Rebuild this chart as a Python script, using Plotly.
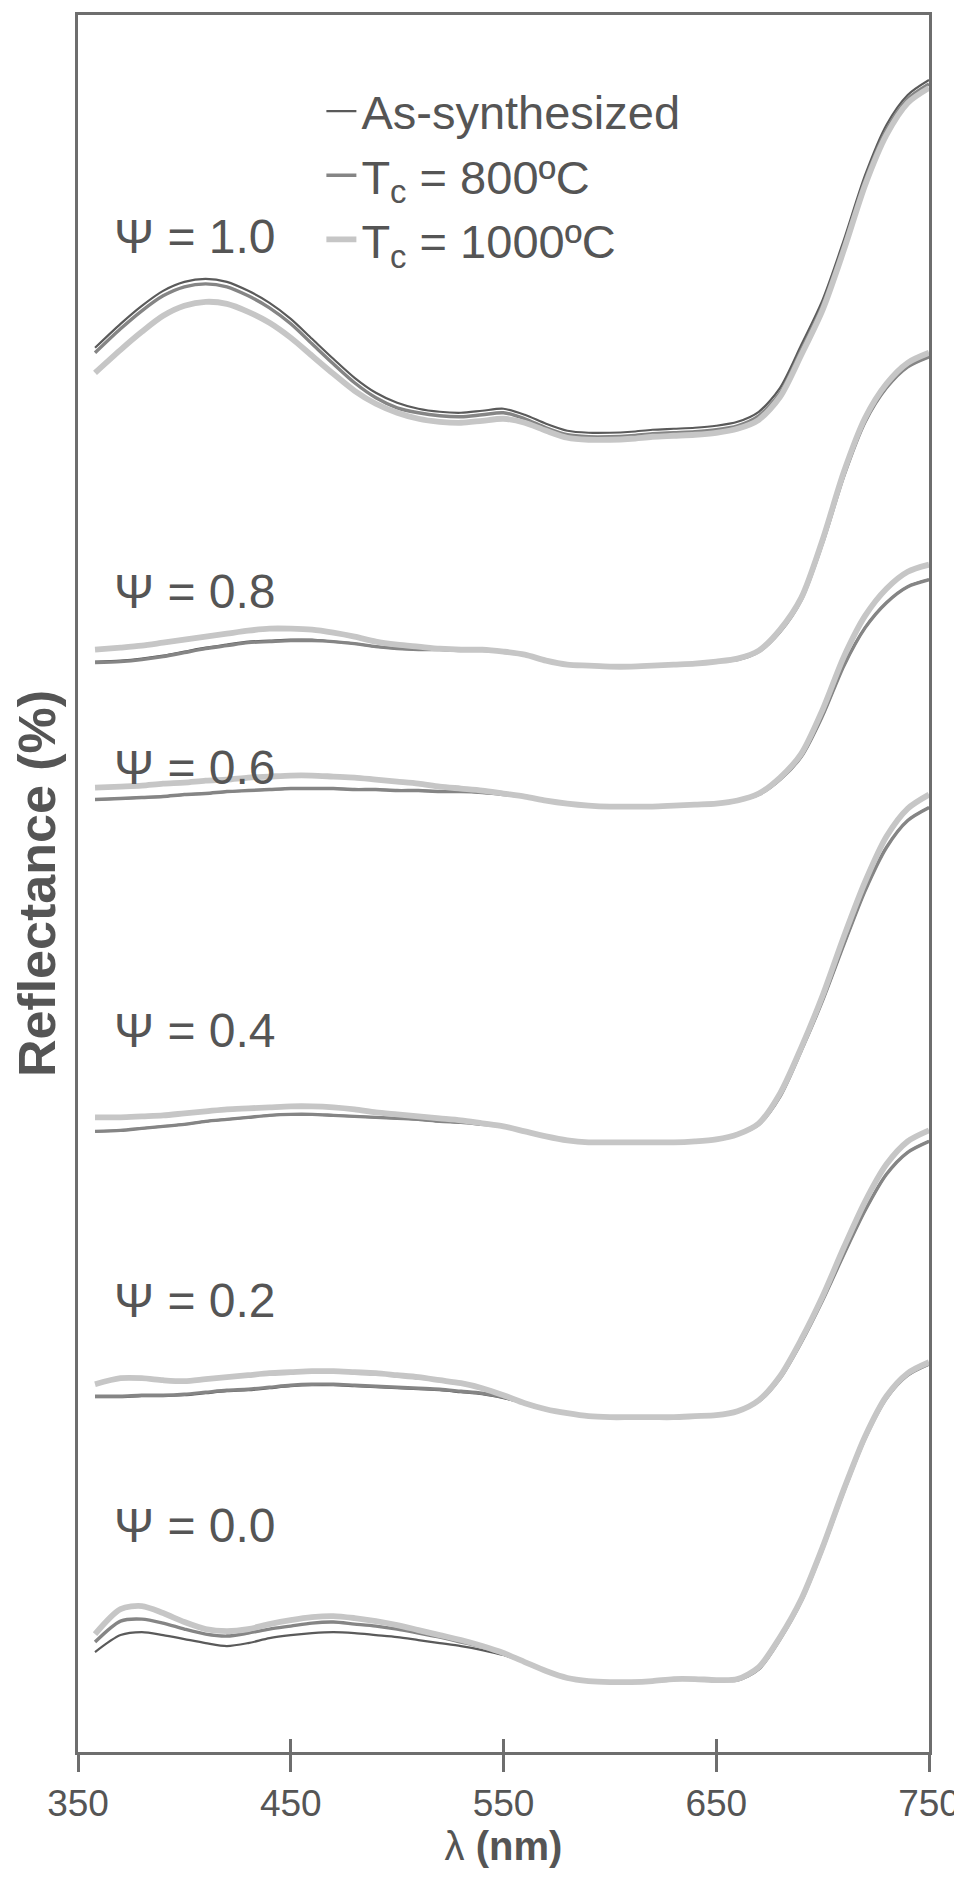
import plotly.graph_objects as go

# Wavelength grid (nm)
wavelength = [358, 370, 380, 390, 400, 410, 420, 430, 440, 450,
              460, 470, 480, 490, 500, 510, 520, 530, 540, 550,
              560, 570, 580, 590, 600, 610, 620, 630, 640, 650,
              660, 670, 680, 690, 700, 710, 720, 730, 740, 750]

# Stacked (offset) reflectance curves
psi10_as = [145.2, 147.6, 149.4, 150.9, 151.8, 152.1, 151.8, 150.9, 149.7, 148.1,
            146.1, 144.1, 142.2, 140.7, 139.7, 139.1, 138.8, 138.7, 138.9, 139.1,
            138.5, 137.6, 136.9, 136.7, 136.7, 136.8, 137.0, 137.1, 137.2, 137.4,
            137.8, 138.8, 141.2, 145.5, 150.0, 156.0, 162.5, 167.5, 170.5, 172.0]
psi10_800 = [144.7, 147.1, 148.9, 150.4, 151.3, 151.6, 151.3, 150.4, 149.2, 147.6,
             145.6, 143.6, 141.7, 140.2, 139.2, 138.7, 138.4, 138.3, 138.5, 138.7,
             138.1, 137.2, 136.5, 136.3, 136.3, 136.4, 136.6, 136.7, 136.8, 137.0,
             137.4, 138.4, 140.7, 145.0, 149.5, 155.5, 162.0, 167.0, 170.1, 171.6]
psi10_1000 = [142.7, 145.0, 146.8, 148.4, 149.4, 149.8, 149.6, 148.8, 147.7, 146.2,
              144.4, 142.6, 140.9, 139.6, 138.7, 138.1, 137.8, 137.7, 137.9, 138.1,
              137.7, 136.9, 136.2, 136.0, 136.0, 136.1, 136.3, 136.4, 136.5, 136.7,
              137.1, 138.0, 140.3, 144.5, 149.0, 155.0, 161.5, 166.5, 169.7, 171.2]

psi08_as = [113.8, 113.9, 114.1, 114.4, 114.8, 115.2, 115.5, 115.8, 115.9, 116.0,
            116.0, 115.8, 115.6, 115.3, 115.1, 115.0, 115.0, 114.9, 114.9, 114.8,
            114.5, 113.9, 113.5, 113.4, 113.3, 113.3, 113.4, 113.5, 113.6, 113.8,
            114.0, 114.8, 116.8, 120.0, 125.7, 132.4, 137.8, 141.2, 143.3, 144.3]
psi08_800 = [113.7, 113.8, 114.0, 114.3, 114.7, 115.1, 115.4, 115.7, 115.8, 115.9,
             115.9, 115.8, 115.6, 115.3, 115.1, 115.0, 115.0, 114.9, 114.9, 114.8,
             114.5, 113.9, 113.5, 113.4, 113.3, 113.3, 113.4, 113.5, 113.6, 113.8,
             114.0, 114.8, 116.8, 120.0, 125.7, 132.4, 137.8, 141.2, 143.3, 144.3]
psi08_1000 = [115.0, 115.2, 115.4, 115.7, 116.0, 116.3, 116.6, 116.9, 117.1, 117.1,
              117.0, 116.7, 116.3, 115.8, 115.5, 115.3, 115.1, 115.0, 115.0, 114.8,
              114.5, 113.9, 113.5, 113.4, 113.3, 113.3, 113.4, 113.5, 113.6, 113.8,
              114.1, 114.9, 117.0, 120.2, 126.0, 132.8, 138.2, 141.6, 143.7, 144.7]

psi06_as = [100.0, 100.1, 100.2, 100.3, 100.5, 100.6, 100.8, 100.9, 101.0, 101.1,
            101.1, 101.1, 101.0, 101.0, 100.9, 100.9, 100.8, 100.8, 100.7, 100.5,
            100.3, 99.9, 99.6, 99.4, 99.3, 99.3, 99.3, 99.4, 99.5, 99.6,
            99.9, 100.5, 102.0, 104.3, 108.4, 113.4, 117.2, 119.7, 121.3, 122.0]
psi06_800 = [100.0, 100.1, 100.2, 100.3, 100.5, 100.6, 100.8, 100.9, 101.0, 101.1,
             101.1, 101.1, 101.0, 101.0, 100.9, 100.9, 100.8, 100.8, 100.7, 100.5,
             100.3, 99.9, 99.6, 99.4, 99.3, 99.3, 99.3, 99.4, 99.5, 99.6,
             99.9, 100.5, 102.0, 104.3, 108.4, 113.4, 117.2, 119.7, 121.3, 122.0]
psi06_1000 = [101.2, 101.3, 101.4, 101.6, 101.7, 101.9, 102.0, 102.2, 102.3, 102.4,
              102.4, 102.3, 102.2, 102.0, 101.8, 101.6, 101.3, 101.1, 100.9, 100.6,
              100.3, 99.9, 99.6, 99.4, 99.3, 99.3, 99.3, 99.4, 99.5, 99.6,
              99.9, 100.6, 102.2, 104.6, 109.0, 114.3, 118.4, 121.1, 122.8, 123.5]

psi04_as = [66.8, 66.9, 67.1, 67.3, 67.5, 67.8, 68.0, 68.2, 68.4, 68.5,
            68.5, 68.4, 68.3, 68.2, 68.1, 68.0, 67.8, 67.7, 67.5, 67.3,
            66.8, 66.3, 65.9, 65.7, 65.7, 65.7, 65.7, 65.7, 65.8, 66.0,
            66.5, 67.5, 70.3, 74.9, 79.9, 85.5, 90.9, 95.2, 97.9, 99.2]
psi04_800 = [66.8, 66.9, 67.1, 67.3, 67.5, 67.8, 68.0, 68.2, 68.4, 68.5,
             68.5, 68.4, 68.3, 68.2, 68.1, 68.0, 67.8, 67.7, 67.5, 67.3,
             66.8, 66.3, 65.9, 65.7, 65.7, 65.7, 65.7, 65.7, 65.8, 66.0,
             66.5, 67.5, 70.3, 74.9, 79.9, 85.5, 90.9, 95.2, 97.9, 99.2]
psi04_1000 = [68.2, 68.2, 68.3, 68.4, 68.6, 68.8, 69.0, 69.1, 69.2, 69.3,
              69.3, 69.2, 69.0, 68.7, 68.5, 68.3, 68.1, 67.9, 67.6, 67.3,
              66.8, 66.3, 65.9, 65.7, 65.7, 65.7, 65.7, 65.7, 65.8, 66.0,
              66.5, 67.6, 70.6, 75.2, 80.4, 86.3, 91.8, 96.3, 99.1, 100.5]

psi02_as = [40.2, 40.2, 40.3, 40.3, 40.4, 40.6, 40.8, 40.9, 41.1, 41.3,
            41.4, 41.4, 41.3, 41.2, 41.1, 41.0, 40.9, 40.7, 40.5, 40.1,
            39.6, 39.0, 38.6, 38.3, 38.2, 38.2, 38.2, 38.2, 38.3, 38.4,
            38.8, 39.8, 42.1, 45.7, 49.9, 54.5, 58.9, 62.5, 64.7, 65.8]
psi02_800 = [40.3, 40.3, 40.4, 40.4, 40.5, 40.7, 40.9, 41.0, 41.2, 41.4,
             41.5, 41.5, 41.4, 41.3, 41.2, 41.1, 41.0, 40.8, 40.6, 40.2,
             39.6, 39.0, 38.6, 38.3, 38.2, 38.2, 38.2, 38.2, 38.3, 38.4,
             38.8, 39.8, 42.1, 45.7, 49.9, 54.5, 58.9, 62.5, 64.7, 65.8]
psi02_1000 = [41.5, 42.1, 42.1, 41.9, 41.8, 42.0, 42.2, 42.4, 42.6, 42.7,
              42.8, 42.8, 42.7, 42.6, 42.4, 42.2, 41.9, 41.6, 41.1, 40.4,
              39.6, 39.0, 38.6, 38.3, 38.2, 38.2, 38.2, 38.2, 38.3, 38.4,
              38.8, 39.9, 42.3, 46.0, 50.3, 55.2, 59.8, 63.5, 65.8, 66.9]

psi00_as = [14.7, 16.4, 16.7, 16.4, 16.0, 15.6, 15.3, 15.6, 16.1, 16.4,
            16.6, 16.7, 16.6, 16.4, 16.2, 15.9, 15.6, 15.3, 14.9, 14.4,
            13.7, 12.8, 12.1, 11.8, 11.7, 11.7, 11.8, 12.0, 12.0, 11.9,
            11.9, 13.0, 16.0, 19.8, 25.0, 30.8, 36.1, 40.1, 42.4, 43.5]
psi00_800 = [15.7, 17.8, 18.0, 17.6, 17.0, 16.5, 16.3, 16.6, 17.0, 17.3,
             17.6, 17.7, 17.5, 17.3, 17.0, 16.6, 16.2, 15.7, 15.2, 14.5,
             13.7, 12.8, 12.1, 11.8, 11.7, 11.7, 11.8, 12.0, 12.0, 11.9,
             11.9, 13.0, 16.0, 19.8, 25.0, 30.8, 36.1, 40.1, 42.4, 43.5]
psi00_1000 = [16.5, 19.0, 19.3, 18.6, 17.7, 17.0, 16.8, 17.0, 17.5, 17.9,
              18.2, 18.3, 18.1, 17.8, 17.4, 16.9, 16.4, 15.9, 15.3, 14.6,
              13.7, 12.8, 12.1, 11.8, 11.7, 11.7, 11.8, 12.0, 12.0, 11.9,
              12.0, 13.2, 16.2, 20.0, 25.2, 31.0, 36.3, 40.3, 42.6, 43.7]

psi_labels = ["Ψ = 1.0", "Ψ = 0.8", "Ψ = 0.6", "Ψ = 0.4", "Ψ = 0.2", "Ψ = 0.0"]
psi_label_y = [156.3, 120.8, 103.2, 76.9, 49.9, 27.4]

series_names = ["As-synthesized", "T<sub>c</sub> = 800ºC", "T<sub>c</sub> = 1000ºC"]
series_data = [
    [psi10_as, psi08_as, psi06_as, psi04_as, psi02_as, psi00_as],
    [psi10_800, psi08_800, psi06_800, psi04_800, psi02_800, psi00_800],
    [psi10_1000, psi08_1000, psi06_1000, psi04_1000, psi02_1000, psi00_1000],
]
series_colors = ["#5a5a5a", "#858585", "#c6c6c6"]
series_widths = [2.2, 3.4, 5.8]

x_ticks = [350, 450, 550, 650, 750]

text_color = "#555555"
axis_color = "#6e6e6e"
font_family = "Liberation Sans, Arial, sans-serif"

fig = go.Figure()
for s, (name, curves) in enumerate(zip(series_names, series_data)):
    for k, curve in enumerate(curves):
        fig.add_trace(go.Scatter(
            x=wavelength, y=curve, mode="lines",
            name=name, legendgroup=f"g{s}", showlegend=(k == 0),
            line=dict(color=series_colors[s], width=series_widths[s], shape="spline", smoothing=0.8),
            hoverinfo="skip",
        ))

# dummy trace so the inside-tick overlay axis is drawn
fig.add_trace(go.Scatter(x=[None], y=[None], xaxis="x2", showlegend=False, hoverinfo="skip"))

for lbl, ly in zip(psi_labels, psi_label_y):
    fig.add_annotation(x=366, y=ly, xref="x", yref="y", text=lbl, showarrow=False,
                       xanchor="left", yanchor="middle",
                       font=dict(family=font_family, size=48, color=text_color))

# The page body adds an 8 px margin; the figure is sized so the whole page is 962 x 1884.
fig.update_layout(
    width=954, height=1876,
    margin=dict(l=70, r=33, t=7, b=132),
    plot_bgcolor="white", paper_bgcolor="white",
    font=dict(family=font_family, color=text_color),
    legend=dict(x=0.286, y=0.966, xanchor="left", yanchor="top",
                bgcolor="rgba(0,0,0,0)", traceorder="grouped", tracegroupgap=0,
                font=dict(family=font_family, size=47, color=text_color)),
    xaxis=dict(range=[350, 750], tickvals=x_ticks, ticktext=[str(t) for t in x_ticks],
               ticks="outside", ticklen=17, tickwidth=3, tickcolor=axis_color,
               showline=True, linecolor=axis_color, linewidth=3, mirror=True,
               showgrid=False, zeroline=False, ticklabelstandoff=0, automargin=False,
               tickfont=dict(family=font_family, size=37, color=text_color),
               title=dict(text="λ <b>(nm)</b>", standoff=8,
                          font=dict(family=font_family, size=40, color=text_color))),
    xaxis2=dict(overlaying="x", anchor="y", side="bottom", range=[350, 750],
                tickvals=x_ticks, ticks="inside", ticklen=13, tickwidth=3, tickcolor=axis_color,
                showticklabels=False, showline=False, showgrid=False, zeroline=False,
                automargin=False),
    yaxis=dict(range=[4.7, 178.5], showticklabels=False, ticks="",
               showline=True, linecolor=axis_color, linewidth=3, mirror=True,
               showgrid=False, zeroline=False, automargin=False,
               title=dict(text="<b>Reflectance (%)</b>", standoff=9,
                          font=dict(family=font_family, size=52, color=text_color))),
)

fig.write_html("out.html")
